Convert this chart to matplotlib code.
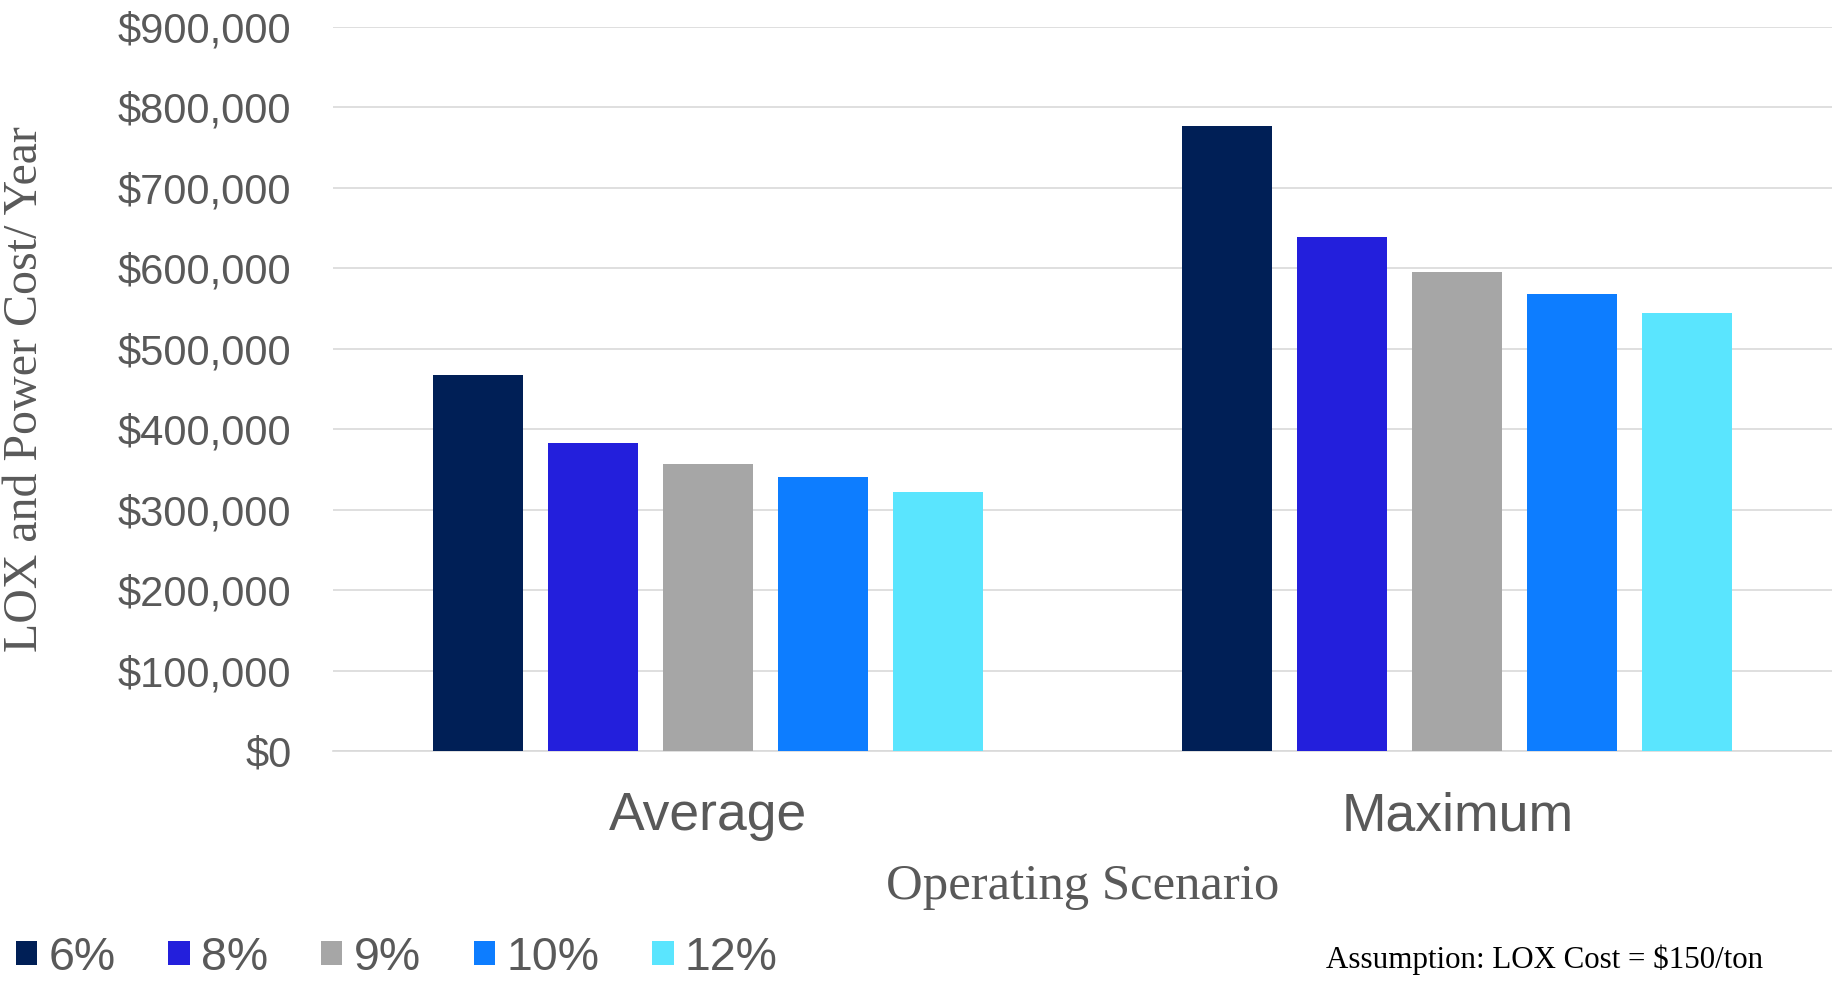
import matplotlib
matplotlib.use("Agg")
import matplotlib.pyplot as plt
from matplotlib.ticker import FuncFormatter
import numpy as np

# Annual LOX + power cost per scenario, by efficiency case
scenarios = ["Average", "Maximum"]
cases = ["6%", "8%", "9%", "10%", "12%"]
cost_6 = [467000, 777000]
cost_8 = [383000, 639000]
cost_9 = [357000, 596000]
cost_10 = [340000, 568000]
cost_12 = [322000, 545000]
colors = ["#001f56", "#231fdc", "#a6a6a6", "#0d7dff", "#5ae5fe"]

series = [cost_6, cost_8, cost_9, cost_10, cost_12]

gray = "#595959"
sans = "Liberation Sans"
serif = "Liberation Serif"

fig = plt.figure(figsize=(18.32, 9.81), dpi=100)
ax = fig.add_axes([0.18177, 0.23445, 0.81823, 0.73802])

x = np.arange(len(scenarios))
pitch = 0.1534
width = 0.12
for i, (vals, c, lab) in enumerate(zip(series, colors, cases)):
    ax.bar(x + (i - 2) * pitch, vals, width, color=c, label=lab, zorder=3)

ax.set_xlim(-0.5, 1.5)
ax.set_ylim(0, 900000)
ax.set_yticks(np.arange(0, 900001, 100000))
ax.yaxis.set_major_formatter(FuncFormatter(lambda v, p: "${:,.0f}".format(v)))
ax.set_xticks(x)
ax.set_xticklabels(scenarios)

ax.grid(axis="y", color="#d9d9d9", linewidth=1.2, zorder=0)
ax.set_axisbelow(True)
for s in ["left", "top", "right"]:
    ax.spines[s].set_visible(False)
ax.spines["bottom"].set_color("#d9d9d9")
ax.spines["bottom"].set_linewidth(1.2)

ax.tick_params(axis="y", length=0, pad=30, labelsize=30, labelcolor=gray)
ax.tick_params(axis="x", length=0, pad=29, labelsize=38.5, labelcolor=gray)
for t in ax.get_xticklabels() + ax.get_yticklabels():
    t.set_fontfamily(sans)

ax.set_xlabel("Operating Scenario", fontsize=36.5, color=gray, family=serif)
ax.xaxis.label.set_va("baseline")
ax.xaxis.set_label_coords(0.5, -0.2044)

ax.set_ylabel("LOX and Power Cost/ Year", fontsize=34.5, color=gray, family=serif)
ax.yaxis.label.set_va("center")
ax.yaxis.set_label_coords(-0.2055, 0.5)

leg = ax.legend(loc="lower left", bbox_to_anchor=(0.0085, 0.001),
                bbox_transform=fig.transFigure, ncol=5, frameon=False,
                prop={"family": sans, "size": 33.5},
                handlelength=0.46, handleheight=0.41, handletextpad=0.24,
                columnspacing=1.14, borderpad=0, borderaxespad=0)
for t in leg.get_texts():
    t.set_color(gray)

fig.text(0.8430, 0.01325, "Assumption: LOX Cost = $150/ton", fontsize=22.3,
         family=serif, color="black", ha="center", va="baseline")

fig.savefig("out.png", dpi=100)
